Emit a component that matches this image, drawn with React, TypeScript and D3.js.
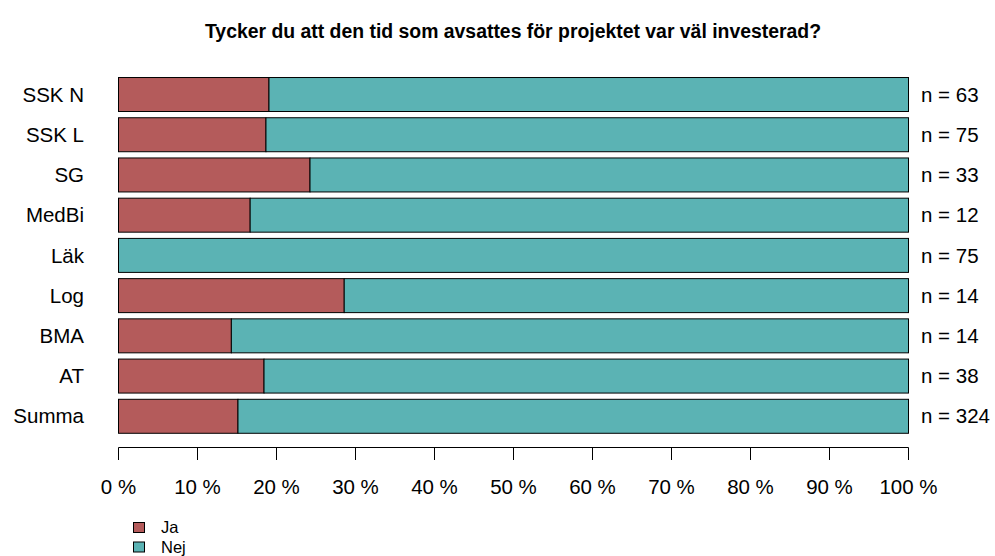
import React from "react";
import * as d3 from "d3";

const categories = ["SSK N", "SSK L", "SG", "MedBi", "Läk", "Log", "BMA", "AT", "Summa"];
const jaCounts = [12, 14, 8, 2, 0, 4, 2, 7, 49];
const totals = [63, 75, 33, 12, 75, 14, 14, 38, 324];
const seriesNames = ["Ja", "Nej"];
const seriesColors = ["#B45B5B", "#5BB3B4"];
const tickValues = [0, 10, 20, 30, 40, 50, 60, 70, 80, 90, 100];
const title = "Tycker du att den tid som avsattes för projektet var väl investerad?";

const W = 995;
const H = 556;
const FONT = "'Liberation Sans', Arial, Helvetica, sans-serif";

export default function App() {
  const x = d3.scaleLinear().domain([0, 100]).range([118.5, 908.5]);
  const y = d3
    .scaleBand<string>()
    .domain(categories)
    .range([74.4, 436.4])
    .paddingInner(0.155)
    .paddingOuter(0.0775);

  const rows = categories.map((c, i) => {
    const ja = (jaCounts[i] / totals[i]) * 100;
    return { c, ja, nej: 100 - ja, n: totals[i] };
  });

  const axisY = 447.5;

  return (
    <svg width={W} height={H} style={{ position: "absolute", left: 0, top: 0 }} fontFamily={FONT}>
      <rect x={0} y={0} width={W} height={H} fill="#fff" />
      <text x={513} y={38} textAnchor="middle" fontWeight="bold" fontSize={19.4} fill="#000">
        {title}
      </text>
      {rows.map((r) => {
        const y0 = y(r.c)!;
        const bh = y.bandwidth();
        const cy = y0 + bh / 2;
        return (
          <g key={r.c}>
            {r.ja > 0 && (
              <rect
                x={x(0)}
                y={y0}
                width={x(r.ja) - x(0)}
                height={bh}
                fill={seriesColors[0]}
                stroke="#000"
                strokeWidth={1}
              />
            )}
            <rect
              x={x(r.ja)}
              y={y0}
              width={x(100) - x(r.ja)}
              height={bh}
              fill={seriesColors[1]}
              stroke="#000"
              strokeWidth={1}
            />
            <text x={84} y={cy} dy="0.35em" textAnchor="end" fontSize={20.5} fill="#000">
              {r.c}
            </text>
            <text x={921} y={cy} dy="0.35em" textAnchor="start" fontSize={20.5} fill="#000">
              {`n = ${r.n}`}
            </text>
          </g>
        );
      })}
      <line x1={x(0)} x2={x(100)} y1={axisY} y2={axisY} stroke="#000" strokeWidth={1} />
      {tickValues.map((t) => (
        <g key={t}>
          <line x1={x(t)} x2={x(t)} y1={axisY} y2={460} stroke="#000" strokeWidth={1} />
          <text x={x(t)} y={487} dy="0.35em" textAnchor="middle" fontSize={20.5} fill="#000">
            {`${t} %`}
          </text>
        </g>
      ))}
      {seriesNames.map((s, i) => (
        <g key={s}>
          <rect
            x={133.5}
            y={522.5 + i * 19.5}
            width={11}
            height={10}
            fill={seriesColors[i]}
            stroke="#000"
            strokeWidth={1}
          />
          <text x={161} y={527.5 + i * 19.5} dy="0.35em" fontSize={16.5} fill="#000">
            {s}
          </text>
        </g>
      ))}
    </svg>
  );
}
